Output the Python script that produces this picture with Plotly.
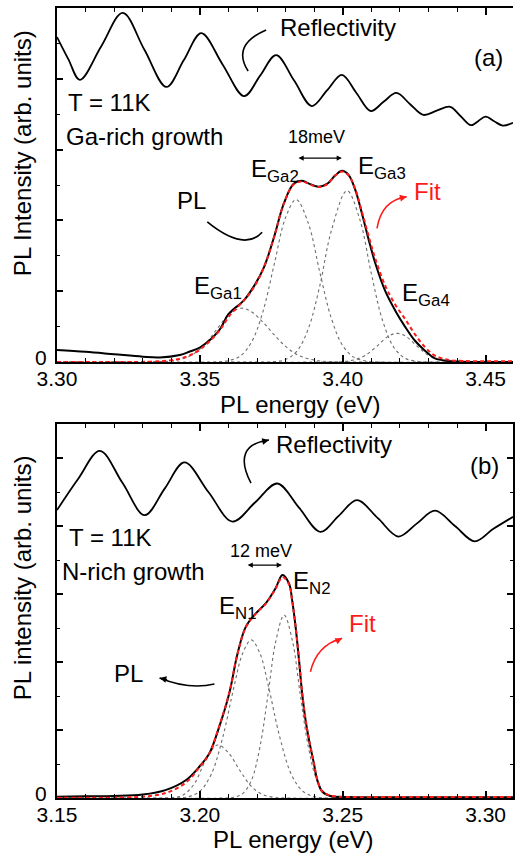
import plotly.graph_objects as go

FONT = "Liberation Sans, Arial, sans-serif"

# ---------------- Panel (a): Ga-rich growth ----------------
refl_a_x = [3.3000, 3.3040, 3.3080, 3.3155, 3.3230, 3.3306, 3.3383, 3.3444, 3.3505, 3.3580,
            3.3655, 3.3711, 3.3767, 3.3830, 3.3892, 3.3945, 3.3997, 3.4048, 3.4098, 3.4143,
            3.4188, 3.4235, 3.4282, 3.4329, 3.4376, 3.4412, 3.4449, 3.4475, 3.4500, 3.4530,
            3.4560, 3.4596]
refl_a_y = [9.18, 8.55, 7.97, 8.92, 9.86, 8.82, 7.77, 8.53, 9.29, 8.40,
            7.51, 8.09, 8.67, 7.95, 7.23, 7.67, 8.11, 7.60, 7.09, 7.35,
            7.60, 7.29, 6.98, 7.10, 7.21, 6.95, 6.69, 6.81, 6.93, 6.80,
            6.68, 6.76]

pl_a_x = [3.300, 3.310, 3.320, 3.330, 3.336, 3.343, 3.3463, 3.350, 3.3568, 3.3600, 3.3655,
          3.369, 3.3725, 3.376, 3.3794, 3.3829, 3.3858, 3.3882, 3.3916, 3.3945, 3.3975,
          3.3998, 3.4021, 3.4044, 3.4067, 3.4091, 3.4114, 3.4149, 3.4184, 3.4218, 3.4253,
          3.4288, 3.4323, 3.437, 3.442, 3.450, 3.4596]
pl_a_y = [0.34, 0.29, 0.22, 0.15, 0.13, 0.20, 0.29, 0.41, 0.90, 1.35, 1.75,
          2.15, 2.69, 3.54, 4.48, 5.04, 5.12, 5.04, 4.95, 5.03, 5.28,
          5.40, 5.28, 4.86, 4.20, 3.45, 2.79, 2.00, 1.45, 1.00, 0.60,
          0.32, 0.10, 0.03, 0.01, 0.00, 0.00]

fit_a_x = [3.300, 3.320, 3.333, 3.340, 3.345, 3.350, 3.3568, 3.3603, 3.3655, 3.369, 3.3725,
           3.376, 3.3794, 3.3829, 3.3858, 3.3882, 3.3916, 3.3945, 3.3975, 3.3998, 3.4021,
           3.4044, 3.4067, 3.4091, 3.4114, 3.4149, 3.4184, 3.4218, 3.4253, 3.4288, 3.4323,
           3.437, 3.442, 3.450, 3.4596]
fit_a_y = [0.00, 0.00, 0.01, 0.05, 0.14, 0.35, 0.88, 1.30, 1.75, 2.12, 2.69,
           3.54, 4.48, 5.02, 5.10, 5.03, 4.94, 5.02, 5.27, 5.38, 5.27,
           4.88, 4.25, 3.55, 2.92, 2.15, 1.62, 1.22, 0.78, 0.42, 0.18,
           0.06, 0.03, 0.02, 0.02]

ga1_x = [3.300, 3.332, 3.336, 3.340, 3.344, 3.348, 3.352, 3.356, 3.360, 3.3644, 3.368,
         3.372, 3.376, 3.380, 3.384, 3.388, 3.392, 3.396, 3.400, 3.4596]
ga1_y = [0.00, 0.00, 0.01, 0.03, 0.09, 0.24, 0.52, 0.93, 1.33, 1.52, 1.42,
         1.13, 0.77, 0.44, 0.21, 0.09, 0.03, 0.01, 0.00, 0.00]

ga2_x = [3.300, 3.356, 3.360, 3.364, 3.368, 3.372, 3.376, 3.380, 3.3837, 3.388,
         3.392, 3.396, 3.400, 3.404, 3.408, 3.412, 3.4596]
ga2_y = [0.00, 0.00, 0.04, 0.16, 0.55, 1.40, 2.75, 4.08, 4.59, 3.91,
         2.53, 1.24, 0.46, 0.13, 0.03, 0.00, 0.00]

ga3_x = [3.300, 3.372, 3.376, 3.380, 3.384, 3.388, 3.392, 3.396, 3.4015, 3.406,
         3.410, 3.414, 3.418, 3.422, 3.426, 3.430, 3.4596]
ga3_y = [0.00, 0.00, 0.01, 0.07, 0.31, 0.95, 2.16, 3.70, 4.84, 4.02,
         2.50, 1.16, 0.40, 0.10, 0.02, 0.00, 0.00]

ga4_x = [3.300, 3.396, 3.400, 3.404, 3.408, 3.412, 3.416, 3.419, 3.422, 3.426,
         3.430, 3.434, 3.438, 3.442, 3.4596]
ga4_y = [0.00, 0.00, 0.01, 0.06, 0.19, 0.45, 0.73, 0.81, 0.73, 0.45,
         0.19, 0.06, 0.01, 0.00, 0.00]

# ---------------- Panel (b): N-rich growth ----------------
refl_b_x = [3.1500, 3.1575, 3.1650, 3.1729, 3.1807, 3.1877, 3.1946, 3.2030, 3.2114, 3.2193,
            3.2271, 3.2347, 3.2422, 3.2486, 3.2550, 3.2623, 3.2695, 3.2759, 3.2823, 3.2893,
            3.2962, 3.3026, 3.3096]
refl_b_y = [8.47, 9.40, 10.21, 9.27, 8.32, 9.10, 9.87, 9.00, 8.13, 8.69,
            9.25, 8.54, 7.83, 8.30, 8.76, 8.23, 7.69, 8.07, 8.45, 8.00,
            7.55, 7.91, 8.27]

pl_b_x = [3.150, 3.160, 3.170, 3.180, 3.1882, 3.1952, 3.1998, 3.2033, 3.2068, 3.2103,
          3.2132, 3.2161, 3.2196, 3.2231, 3.2265, 3.2289, 3.2312, 3.2323, 3.2335, 3.2347,
          3.2358, 3.2370, 3.2382, 3.2399, 3.2411, 3.2428, 3.2457, 3.2521, 3.270, 3.3096]
pl_b_y = [0.04, 0.05, 0.06, 0.10, 0.24, 0.53, 0.92, 1.31, 2.10, 3.08,
          4.25, 5.04, 5.43, 5.73, 6.17, 6.56, 6.31, 5.82, 5.04, 4.06,
          3.08, 2.29, 1.71, 1.02, 0.53, 0.19, 0.06, 0.03, 0.02, 0.02]

fit_b_x = [3.150, 3.160, 3.170, 3.180, 3.1882, 3.1952, 3.1998, 3.2033, 3.2068, 3.2103,
           3.2132, 3.2161, 3.2196, 3.2231, 3.2265, 3.2289, 3.2312, 3.2323, 3.2335, 3.2347,
           3.2358, 3.2370, 3.2382, 3.2399, 3.2411, 3.2428, 3.2457, 3.2521, 3.270, 3.3096]
fit_b_y = [0.01, 0.01, 0.01, 0.04, 0.15, 0.46, 0.90, 1.30, 2.12, 3.10,
           4.25, 5.02, 5.42, 5.72, 6.15, 6.50, 6.28, 5.80, 5.06, 4.08,
           3.10, 2.31, 1.72, 1.03, 0.54, 0.20, 0.07, 0.03, 0.03, 0.03]

n0_x = [3.150, 3.186, 3.190, 3.194, 3.198, 3.202, 3.2062, 3.210, 3.214, 3.218,
        3.222, 3.226, 3.230, 3.3096]
n0_y = [0.00, 0.00, 0.01, 0.08, 0.41, 1.10, 1.56, 1.33, 0.81, 0.34,
        0.10, 0.02, 0.00, 0.00]

n1_x = [3.150, 3.192, 3.196, 3.200, 3.204, 3.208, 3.212, 3.215, 3.218, 3.221,
        3.224, 3.228, 3.232, 3.236, 3.240, 3.244, 3.3096]
n1_y = [0.00, 0.00, 0.04, 0.20, 0.70, 1.78, 3.29, 4.26, 4.65, 4.26,
        3.29, 1.78, 0.70, 0.20, 0.04, 0.00, 0.00]

n2_x = [3.150, 3.209, 3.212, 3.215, 3.218, 3.221, 3.224, 3.2265, 3.2295, 3.2325,
        3.235, 3.238, 3.241, 3.244, 3.247, 3.250, 3.3096]
n2_y = [0.00, 0.00, 0.02, 0.13, 0.51, 1.49, 3.13, 4.58, 5.38, 4.58,
        3.13, 1.49, 0.51, 0.13, 0.02, 0.00, 0.00]

x_a_ticks = [3.30, 3.35, 3.40, 3.45]
x_b_ticks = [3.15, 3.20, 3.25, 3.30]

RED = "#ff1a1a"
GRAY = "#6e6e6e"

fig = go.Figure()

def add_panel(xa, ya, refl, comps, pl, fit):
    for cx, cy in comps:
        fig.add_trace(go.Scatter(x=cx, y=cy, mode="lines", line=dict(color=GRAY, width=1.1, dash="dot", shape="spline"),
                                 xaxis=xa, yaxis=ya, showlegend=False, hoverinfo="skip"))
    fig.add_trace(go.Scatter(x=refl[0], y=refl[1], mode="lines", line=dict(color="black", width=1.8, shape="spline"),
                             xaxis=xa, yaxis=ya, showlegend=False))
    fig.add_trace(go.Scatter(x=pl[0], y=pl[1], mode="lines", line=dict(color="black", width=2, shape="spline"),
                             xaxis=xa, yaxis=ya, showlegend=False))
    fig.add_trace(go.Scatter(x=fit[0], y=fit[1], mode="lines", line=dict(color=RED, width=2, dash="4px,3px", shape="spline"),
                             xaxis=xa, yaxis=ya, showlegend=False))

add_panel("x", "y", (refl_a_x, refl_a_y), [(ga1_x, ga1_y), (ga2_x, ga2_y), (ga3_x, ga3_y), (ga4_x, ga4_y)],
          (pl_a_x, pl_a_y), (fit_a_x, fit_a_y))
add_panel("x2", "y2", (refl_b_x, refl_b_y), [(n0_x, n0_y), (n1_x, n1_y), (n2_x, n2_y)],
          (pl_b_x, pl_b_y), (fit_b_x, fit_b_y))

tickfont = dict(family=FONT, size=21, color="black")

def xaxis_cfg(rng, ticks, anchor):
    return dict(range=rng, tickvals=ticks, ticktext=[f"{t:.2f}" for t in ticks], ticks="inside", ticklen=7,
                tickwidth=1.5, tickcolor="black", showline=True, linewidth=2, linecolor="black", mirror="ticks",
                showgrid=False, zeroline=False, tickfont=tickfont, anchor=anchor, ticklabelstandoff=-3,
                minor=dict(tick0=ticks[0], dtick=0.01, ticks="inside", ticklen=4, tickwidth=1.2, tickcolor="black"))

def yaxis_cfg(dom, rng, anchor, mirror):
    vals = list(range(0, rng[1] + 1, 2))
    return dict(domain=dom, range=rng, tickvals=vals, ticktext=["0"] + [""] * (len(vals) - 1), ticks="inside",
                ticklen=6, tickwidth=1.5, tickcolor="black", showline=True, linewidth=2, linecolor="black",
                mirror=mirror, showgrid=False, zeroline=False, tickfont=tickfont, anchor=anchor,
                ticklabelstandoff=4, ticklabelshift=-4,
                minor=dict(dtick=1, ticks="inside", ticklen=3, tickwidth=1.2, tickcolor="black"))

fig.update_layout(
    width=515, height=855, margin=dict(l=57, r=0, t=8, b=57),
    paper_bgcolor="white", plot_bgcolor="white",
    font=dict(family=FONT, size=24, color="black"),
    xaxis=xaxis_cfg([3.30, 3.4596], x_a_ticks, "y"),
    yaxis=yaxis_cfg([0.5519, 1.0], [0, 10], "x", False),
    xaxis2=xaxis_cfg([3.15, 3.3096], x_b_ticks, "y2"),
    yaxis2=yaxis_cfg([0.0, 0.4734], [0, 11], "x2", "ticks"),
)

ann = []
def txt(xr, yr, x, y, s, size=24, color="black", xanchor="center", yanchor="middle", angle=0):
    ann.append(dict(xref=xr, yref=yr, x=x, y=y, text=s, showarrow=False, xanchor=xanchor, yanchor=yanchor,
                    textangle=angle, font=dict(family=FONT, size=size, color=color)))

# axis titles
txt("paper", "paper", 0.535, 0.4987, "PL energy (eV)")
txt("paper", "paper", 0.5197, -0.053, "PL energy (eV)")
txt("paper", "paper", -0.0742, 0.8165, "PL Intensity (arb. units)", angle=-90)
txt("paper", "paper", -0.0742, 0.2785, "PL intensity (arb. units)", angle=-90)

# panel (a) labels
txt("x", "y", 3.3983, 9.46, "Reflectivity")
txt("x", "y", 3.4509, 8.59, "(a)")
txt("x", "y", 3.3030, 7.32, "T = 11K", xanchor="left")
txt("x", "y", 3.3025, 6.36, "Ga-rich growth", xanchor="left")
txt("x", "y", 3.3909, 6.36, "18meV", size=18)
txt("x", "y", 3.3672, 5.4, "E<sub>Ga2</sub>", xanchor="left")
txt("x", "y", 3.4045, 5.5, "E<sub>Ga3</sub>", xanchor="left")
txt("x", "y", 3.3474, 2.1, "E<sub>Ga1</sub>", xanchor="left")
txt("x", "y", 3.4202, 1.9, "E<sub>Ga4</sub>", xanchor="left")
txt("x", "y", 3.4296, 4.83, "Fit", color=RED)
txt("x", "y", 3.3470, 4.55, "PL")

# panel (b) labels
txt("x2", "y2", 3.2469, 10.41, "Reflectivity")
txt("x2", "y2", 3.2995, 9.79, "(b)")
txt("x2", "y2", 3.1535, 7.65, "T = 11K", xanchor="left")
txt("x2", "y2", 3.1510, 6.65, "N-rich growth", xanchor="left")
txt("x2", "y2", 3.2214, 7.26, "12 meV", size=18)
txt("x2", "y2", 3.2061, 5.6, "E<sub>N1</sub>", xanchor="left")
txt("x2", "y2", 3.2319, 6.35, "E<sub>N2</sub>", xanchor="left")
txt("x2", "y2", 3.2570, 5.12, "Fit", color=RED)
txt("x2", "y2", 3.1751, 3.65, "PL")

# double-headed spacing arrows
def darrow(xr, yr, x0, x1, y):
    ann.append(dict(xref=xr, yref=yr, axref=xr, ayref=yr, x=x1, y=y, ax=x0, ay=y, text="", showarrow=True,
                    arrowhead=2, startarrowhead=2, arrowside="end+start", arrowsize=0.8, arrowwidth=1.3,
                    arrowcolor="black", startstandoff=0, standoff=0))
darrow("x", "y", 3.3840, 3.3997, 5.76)
darrow("x2", "y2", 3.2162, 3.2287, 6.85)

# arrowheads at ends of curved pointers
def head(xr, yr, x, y, dx, dy, color):
    ann.append(dict(xref=xr, yref=yr, x=x, y=y, ax=dx, ay=dy, text="", showarrow=True, arrowhead=2,
                    arrowsize=0.9, arrowwidth=1.5, arrowcolor=color, standoff=0))
head("x", "y", 3.4224, 4.67, -9, 2, RED)
head("x2", "y2", 3.2242, 10.53, -9, 2, "black")
head("x2", "y2", 3.1859, 3.529, 9, 2, "black")
head("x2", "y2", 3.2498, 4.70, -8, 4, RED)

fig.update_layout(annotations=ann)

shapes = []
def curve(xr, yr, p0, c, p1, color):
    shapes.append(dict(type="path", xref=xr, yref=yr,
                       path=f"M {p0[0]},{p0[1]} Q {c[0]},{c[1]} {p1[0]},{p1[1]}",
                       line=dict(color=color, width=1.6)))
curve("x", "y", (3.3732, 9.38), (3.3610, 8.96), (3.3669, 8.22), "black")
curve("x", "y", (3.3526, 3.955), (3.3655, 3.107), (3.3718, 3.667), "black")
curve("x", "y", (3.4120, 3.776), (3.4136, 4.576), (3.4224, 4.67), RED)
curve("x2", "y2", (3.2179, 9.26), (3.2110, 10.38), (3.2242, 10.53), "black")
curve("x2", "y2", (3.2051, 3.353), (3.1963, 3.176), (3.1859, 3.529), "black")
curve("x2", "y2", (3.2387, 3.715), (3.2409, 4.50), (3.2498, 4.70), RED)
fig.update_layout(shapes=shapes)

fig.write_html("out.html")
